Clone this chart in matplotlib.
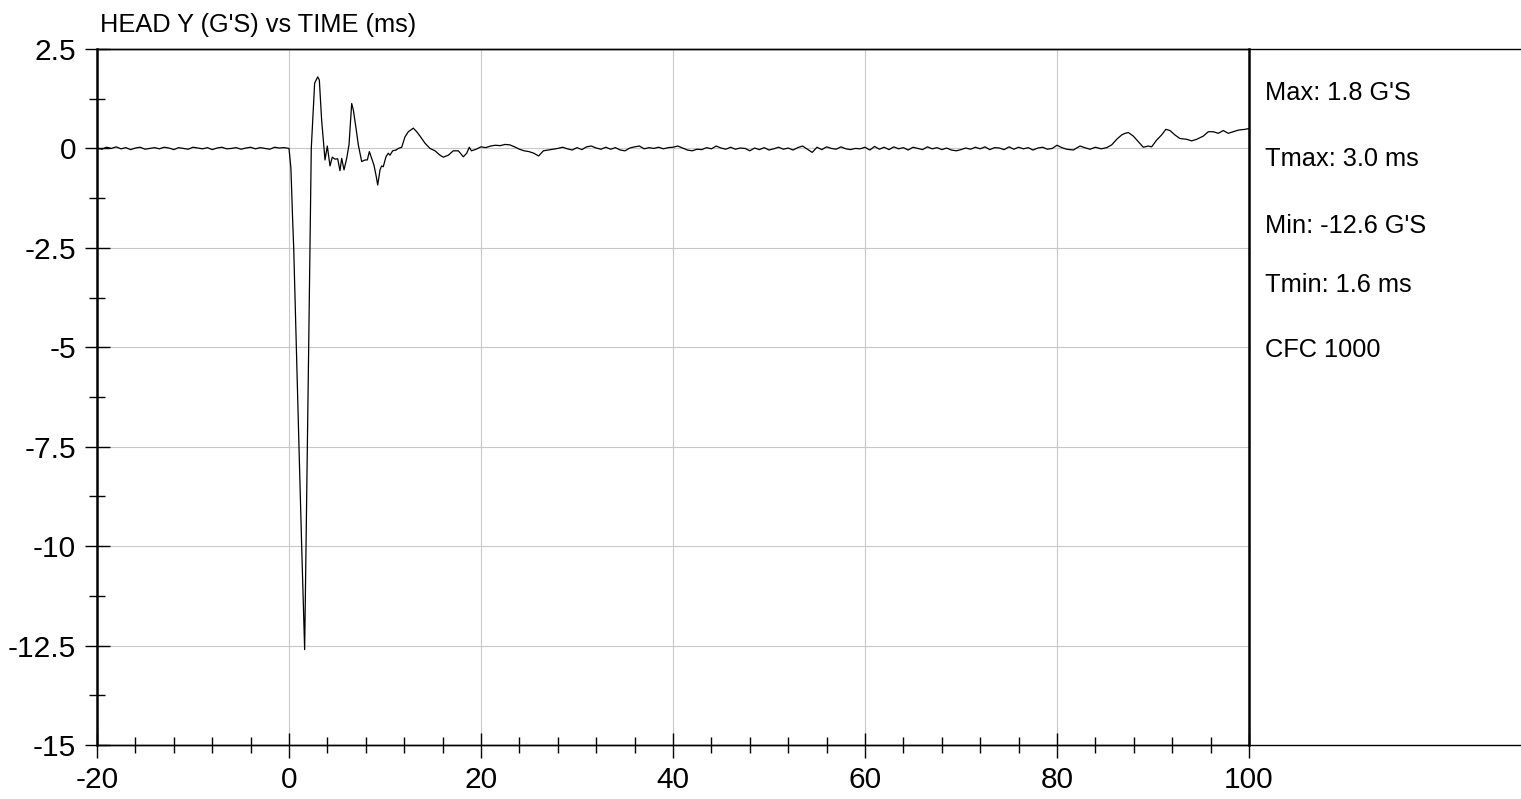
import numpy as np
import matplotlib
matplotlib.use('Agg')
import matplotlib.pyplot as plt
from matplotlib.ticker import MultipleLocator
from matplotlib.lines import Line2D

plt.rcParams['font.family'] = ['Liberation Sans', 'DejaVu Sans']
plt.rcParams['axes.unicode_minus'] = False

# pre-trigger baseline, -20 .. -0.5 ms every 0.5 ms
pre_t = np.arange(-20.0, 0.0, 0.5)
pre_v = [0.01, -0.02, 0.03, 0.0, 0.04, -0.01, 0.02, -0.03, 0.01, 0.03,
         -0.02, 0.0, 0.02, -0.01, 0.03, 0.01, -0.03, 0.02, 0.0, -0.02,
         0.03, 0.01, -0.01, 0.02, -0.03, 0.01, 0.03, -0.01, 0.0, 0.02,
         -0.02, 0.01, 0.03, -0.01, 0.02, 0.0, -0.02, 0.03, 0.01, 0.02]

# impact pulse
hit_t = [0.0, 0.2, 0.38, 0.49, 0.76, 1.04, 1.32, 1.63, 1.77, 1.9, 2.05, 2.19, 2.32,
         2.67, 2.99, 3.16, 3.4, 3.75, 3.99, 4.27, 4.51, 4.79, 5.07, 5.31, 5.49, 5.73,
         6.01, 6.25, 6.53, 6.70, 6.98, 7.22, 7.57, 7.92, 8.16, 8.37, 8.61, 8.85, 9.06,
         9.24, 9.48, 9.65, 9.82, 10.1, 10.34, 10.52, 10.8, 11.15, 11.39, 11.74, 12.08,
         12.43, 12.95, 13.3, 13.65, 14.17, 14.69, 15.21, 15.73, 16.07, 16.6, 17.11,
         17.64, 18.16, 18.51, 18.78]
hit_v = [0.0, -0.5, -1.8, -2.5, -5.0, -7.5, -10.0, -12.6, -10.0, -7.5, -5.0, -2.5, 0.0,
         1.64, 1.8, 1.72, 0.71, -0.29, 0.06, -0.44, -0.22, -0.27, -0.26, -0.56, -0.25,
         -0.54, -0.25, 0.09, 1.13, 0.97, 0.51, 0.09, -0.33, -0.29, -0.29, -0.08, -0.25,
         -0.42, -0.67, -0.92, -0.54, -0.44, -0.46, -0.21, -0.12, -0.17, -0.06, -0.04,
         0.0, 0.03, 0.29, 0.42, 0.51, 0.42, 0.31, 0.13, 0.0, -0.06, -0.17, -0.22,
         -0.17, -0.06, -0.06, -0.21, -0.12, 0.03]

# quiet part, 19 .. 80 ms every 0.5 ms
mid_t = np.arange(19.0, 80.01, 0.5)
mid_v = [-0.06, -0.02, 0.04, 0.02, 0.06, 0.08, 0.07, 0.10, 0.09, 0.04,
         -0.02, -0.06, -0.08, -0.12, -0.19, -0.06, -0.04, -0.02, 0.0, 0.03,
         -0.01, -0.04, 0.02, -0.03, 0.04, 0.06, 0.01, -0.02, 0.03, -0.02,
         0.02, -0.04, -0.06, 0.01, 0.04, 0.06, -0.01, 0.02, 0.0, 0.03,
         -0.01, 0.02, 0.03, 0.06, 0.01, -0.04, -0.06, -0.02, -0.03, 0.02,
         -0.01, 0.06, 0.01, -0.02, 0.03, -0.02, 0.01, 0.0, -0.06, 0.01,
         -0.03, 0.02, -0.04, -0.01, 0.03, -0.02, 0.01, -0.04, 0.02, 0.06,
         -0.02, -0.10, 0.03, -0.03, 0.04, 0.0, -0.02, 0.04, -0.01, -0.03,
         0.0, -0.01, 0.03, -0.04, 0.05, -0.02, 0.03, -0.03, 0.04, -0.01,
         0.02, -0.04, 0.03, 0.0, -0.03, 0.04, -0.01, 0.02, -0.03, 0.01,
         -0.04, -0.06, -0.03, 0.01, -0.02, 0.03, -0.01, 0.04, -0.03, 0.02,
         0.01, -0.03, 0.04, -0.02, 0.03, -0.01, 0.02, -0.04, 0.01, 0.03,
         -0.02, 0.0, 0.08]

# late drift
end_t = [80.5, 81.0, 81.7, 82.4, 83.0, 83.44, 84.0, 84.6, 85.18, 85.7,
         86.22, 86.74, 87.1, 87.43, 87.95, 88.47, 88.99, 89.51, 89.86, 90.38,
         90.9, 91.34, 91.77, 92.28, 92.8, 93.5, 94.03, 94.55, 95.24, 95.76,
         96.28, 96.8, 97.32, 97.84, 98.36, 98.88, 99.58, 100.0]
end_v = [0.02, -0.02, -0.04, 0.06, 0.01, -0.02, 0.03, -0.01, 0.02, 0.09,
         0.23, 0.34, 0.38, 0.4, 0.31, 0.17, 0.03, 0.06, 0.04, 0.21,
         0.34, 0.48, 0.45, 0.34, 0.25, 0.23, 0.19, 0.23, 0.31, 0.42,
         0.42, 0.38, 0.45, 0.38, 0.42, 0.46, 0.48, 0.5]

stats = ["Max: 1.8 G'S", "Tmax: 3.0 ms", "Min: -12.6 G'S", "Tmin: 1.6 ms", "CFC 1000"]

t = np.concatenate([pre_t, hit_t, mid_t, end_t])
v = np.concatenate([pre_v, hit_v, mid_v, end_v])

W, H = 1521, 799
fig = plt.figure(figsize=(W / 100, H / 100), dpi=100)
x0, x1, ytop, ybot = 97, 1249, 49, 745
ax = fig.add_axes([x0 / W, 1 - ybot / H, (x1 - x0) / W, (ybot - ytop) / H])

ax.plot(t, v, color='black', lw=0.9)
ax.set_xlim(-20, 100)
ax.set_ylim(-15, 2.5)
ax.xaxis.set_major_locator(MultipleLocator(20))
ax.xaxis.set_minor_locator(MultipleLocator(4))
ax.yaxis.set_major_locator(MultipleLocator(2.5))
ax.yaxis.set_minor_locator(MultipleLocator(1.25))
ax.yaxis.set_major_formatter(plt.FuncFormatter(lambda y, p: ('%g' % y)))
ax.grid(True, which='major', color='#c8c8c8', lw=0.8)
ax.tick_params(which='major', direction='inout', length=18, width=1, labelsize=21.5, pad=6)
ax.tick_params(which='minor', direction='inout', length=11, width=1)
for s in ['top', 'right', 'bottom']:
    ax.spines[s].set_linewidth(1.0)
ax.spines['left'].set_linewidth(1.8)
ax.spines['right'].set_linewidth(1.8)

# frame of the side panel
fig.add_artist(Line2D([x0 / W, 1], [1 - ytop / H] * 2, color='black', lw=1.0))
fig.add_artist(Line2D([x0 / W, 1], [1 - ybot / H] * 2, color='black', lw=1.0))

fig.text(100 / W, 1 - 25 / H, "HEAD Y (G'S) vs TIME (ms)", fontsize=18.3, va='center', ha='left')
ys = [93, 159, 226, 285, 350]
for s, yy in zip(stats, ys):
    fig.text(1265 / W, 1 - yy / H, s, fontsize=18.3, va='center', ha='left')

fig.savefig('out.png', dpi=100)
